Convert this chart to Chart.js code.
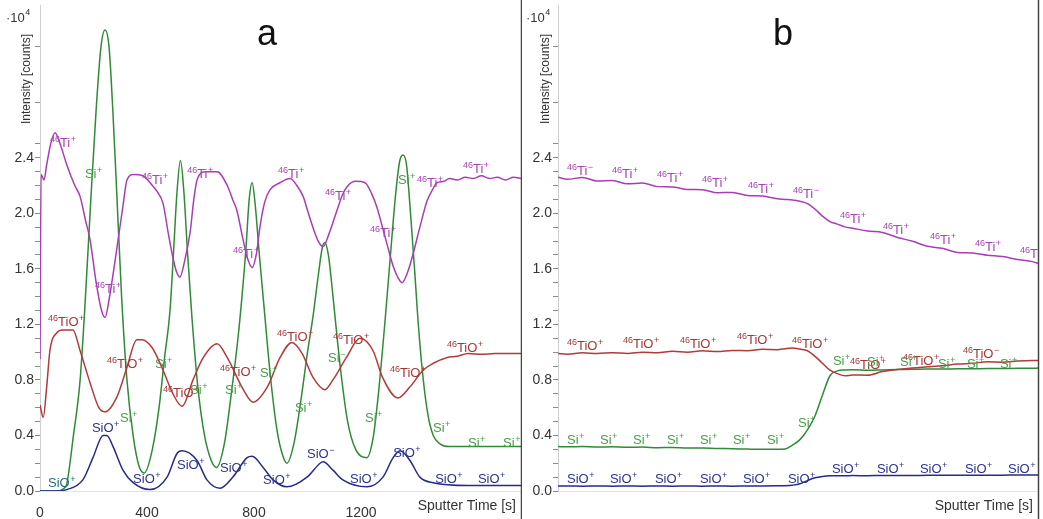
<!DOCTYPE html>
<html>
<head>
<meta charset="utf-8">
<script src="https://cdn.jsdelivr.net/npm/chart.js@4.4.1/dist/chart.umd.min.js"></script>
<style>
  html, body { margin: 0; padding: 0; background: #fff; }
  #wrap { position: relative; width: 1043px; height: 519px; overflow: hidden; }
  #ca { position: absolute; left: 0; top: 0; }
  #cb { position: absolute; left: 522px; top: 0; }
</style>
</head>
<body>
<div id="wrap">
  <canvas id="ca" width="522" height="519"></canvas>
  <canvas id="cb" width="521" height="519"></canvas>
</div>
<script>
/* ---- panel a : sputter time [s] / intensity [10^4 counts] ---- */
const tiTimeA = [0,4,15,25,40,56,75,100,130,150,170,187,210,230,243,260,280,292,310,325,350,385,420,440,460,480,497,510,523,540,561,575,587,620,662,700,720,736,759,775,793,810,822,840,860,897,935,960,984,1000,1020,1040,1058,1080,1110,1130,1147,1180,1215,1240,1260,1280,1297,1320,1340,1353,1375,1395,1420,1447,1470,1484,1510,1530,1560,1590,1620,1650,1680,1710,1740,1770,1800];
const tiValA  = [0.95,2.28,2.24,2.35,2.5,2.58,2.5,2.35,2.2,2.12,1.95,1.81,1.5,1.3,1.25,1.4,1.65,1.81,2.05,2.24,2.28,2.27,2.2,2.15,2.07,1.85,1.68,1.58,1.54,1.65,1.86,2.1,2.24,2.3,2.3,2.2,2.1,2.02,1.81,1.68,1.61,1.72,1.9,2.08,2.17,2.22,2.25,2.2,2.12,2.02,1.9,1.8,1.76,1.85,2.02,2.13,2.19,2.23,2.22,2.14,2.04,1.9,1.78,1.62,1.53,1.5,1.58,1.71,1.9,2.09,2.18,2.22,2.23,2.25,2.24,2.26,2.25,2.27,2.25,2.26,2.24,2.26,2.25];

const siTimeA = [0,60,90,100,125,150,170,190,210,228,243,258,272,288,305,325,348,370,390,420,445,465,486,500,512,525,538,552,568,590,615,640,660,690,715,740,755,770,782,793,805,820,841,860,885,905,923,950,975,1000,1020,1040,1055,1065,1078,1090,1103,1125,1150,1180,1222,1245,1265,1290,1310,1330,1345,1357,1370,1385,1400,1413,1430,1450,1470,1495,1530,1800];
const siValA  = [0,0,0.02,0.05,0.4,0.8,1.4,2.1,2.75,3.2,3.32,3.2,2.75,2.1,1.4,0.8,0.4,0.18,0.13,0.3,0.6,0.95,1.3,1.75,2.15,2.38,2.15,1.7,1.25,0.75,0.4,0.22,0.17,0.35,0.7,1.1,1.4,1.75,2.1,2.22,2.05,1.7,1.25,0.85,0.45,0.27,0.2,0.35,0.65,1.0,1.25,1.55,1.75,1.79,1.7,1.5,1.25,0.85,0.5,0.3,0.24,0.38,0.7,1.23,1.7,2.15,2.38,2.42,2.35,2.0,1.6,1.23,0.85,0.55,0.4,0.34,0.32,0.32];

const tioTimeA = [0,12,25,37,63,85,123,150,187,220,243,288,325,362,381,420,460,497,531,572,610,662,700,760,796,850,897,942,980,1020,1065,1095,1145,1196,1245,1280,1338,1383,1432,1470,1520,1560,1600,1650,1700,1750,1800];
const tioValA  = [0.62,0.53,0.75,1.01,1.14,1.16,1.16,1.01,0.78,0.6,0.57,0.68,0.89,1.09,1.09,1.03,0.87,0.7,0.61,0.8,0.96,1.06,0.96,0.73,0.64,0.75,0.96,1.07,0.99,0.82,0.73,0.8,0.96,1.1,1.01,0.82,0.67,0.75,0.87,0.92,0.96,0.97,0.99,0.985,0.99,0.99,0.99];

const sioTimeA = [0,60,100,160,198,236,250,273,310,348,411,475,512,531,587,624,673,721,774,793,834,871,923,998,1047,1058,1095,1132,1222,1282,1320,1346,1383,1420,1469,1600,1800];
const sioValA  = [0,0,0.01,0.08,0.24,0.4,0.4,0.32,0.15,0.06,0.01,0.1,0.27,0.29,0.22,0.08,0.02,0.1,0.24,0.25,0.17,0.08,0.03,0.1,0.2,0.21,0.15,0.08,0.03,0.1,0.24,0.29,0.22,0.1,0.06,0.04,0.04];

/* ---- panel b ---- */
const timeB   = [1787,1850,1950,2050,2150,2250,2350,2450,2550,2650,2750,2850,2950,3050,3150,3250,3300,3350,3400,3450,3500,3550,3600,3650,3700,3750,3850,3950,4050,4150,4250,4350,4450,4550,4650,4750,4850,4950,4987];
const tiValB  = [2.26,2.245,2.258,2.232,2.236,2.212,2.218,2.192,2.19,2.172,2.17,2.148,2.15,2.128,2.124,2.104,2.1,2.096,2.086,2.07,2.03,1.98,1.94,1.922,1.902,1.893,1.872,1.862,1.826,1.798,1.762,1.748,1.718,1.714,1.698,1.688,1.668,1.652,1.64];
const tioValB = [0.99,0.985,0.995,0.99,0.996,0.99,1.0,0.995,1.006,1.0,1.01,1.004,1.012,1.01,1.02,1.018,1.025,1.03,1.022,1.01,0.97,0.92,0.87,0.845,0.83,0.835,0.834,0.86,0.875,0.886,0.894,0.902,0.914,0.92,0.93,0.928,0.936,0.94,0.94];
const siValB  = [0.32,0.318,0.32,0.316,0.318,0.315,0.316,0.312,0.314,0.31,0.31,0.306,0.305,0.302,0.3,0.3,0.302,0.33,0.37,0.44,0.54,0.69,0.83,0.865,0.872,0.874,0.87,0.872,0.875,0.876,0.878,0.878,0.88,0.88,0.882,0.882,0.884,0.884,0.885];
const sioValB = [0.036,0.036,0.035,0.036,0.035,0.036,0.035,0.036,0.035,0.036,0.035,0.036,0.035,0.036,0.036,0.037,0.038,0.042,0.052,0.075,0.095,0.105,0.11,0.11,0.11,0.111,0.11,0.112,0.112,0.112,0.113,0.113,0.113,0.114,0.114,0.114,0.115,0.115,0.115];

/* ---- ion tags written along the curves: [time, intensity, text] ---- */
const tiTagsA  = [[37,2.51,"46Ti+"],[206,1.46,"46Ti+"],[381,2.24,"46Ti+"],[550,2.29,"46Ti+"],[721,1.71,"46Ti+"],[890,2.29,"46Ti+"],[1065,2.13,"46Ti+"],[1234,1.86,"46Ti+"],[1409,2.22,"46Ti+"],[1581,2.32,"46Ti+"]];
const siTagsA  = [[168,2.29,"Si+"],[299,0.53,"Si+"],[430,0.92,"Si+"],[561,0.73,"Si+"],[692,0.73,"Si+"],[822,0.85,"Si+"],[953,0.6,"Si+"],[1077,0.96,"Si-"],[1215,0.53,"Si+"],[1338,2.24,"Si+"],[1469,0.46,"Si+"],[1600,0.35,"Si+"],[1731,0.35,"Si+"]];
const tioTagsA = [[30,1.22,"46TiO+"],[250,0.92,"46TiO+"],[460,0.71,"46TiO+"],[673,0.86,"46TiO+"],[886,1.11,"46TiO+"],[1095,1.09,"46TiO+"],[1308,0.85,"46TiO+"],[1521,1.03,"46TiO+"]];
const sioTagsA = [[194,0.46,"SiO+"],[348,0.09,"SiO+"],[512,0.19,"SiO+"],[673,0.17,"SiO+"],[834,0.08,"SiO+"],[998,0.27,"SiO-"],[1159,0.09,"SiO+"],[1320,0.28,"SiO+"],[1477,0.09,"SiO+"],[1637,0.09,"SiO+"]];
const sioTealTagsA = [[30,0.06,"SiO+"]];

const tiTagsB  = [[1847,2.31,"46Ti-"],[2147,2.29,"46Ti+"],[2447,2.26,"46Ti+"],[2747,2.22,"46Ti+"],[3053,2.18,"46Ti+"],[3353,2.14,"46Ti-"],[3667,1.96,"46Ti+"],[3953,1.88,"46Ti+"],[4267,1.81,"46Ti+"],[4567,1.76,"46Ti+"],[4867,1.71,"46Ti+"]];
const tioTagsB = [[1847,1.05,"46TiO+"],[2220,1.06,"46TiO+"],[2600,1.06,"46TiO+"],[2980,1.09,"46TiO+"],[3347,1.06,"46TiO+"],[3733,0.91,"46TiO+"],[4087,0.94,"46TiO+"],[4487,0.99,"46TiO-"]];
const siTagsB  = [[1847,0.37,"Si+"],[2067,0.37,"Si+"],[2287,0.37,"Si+"],[2513,0.37,"Si+"],[2733,0.37,"Si+"],[2953,0.37,"Si+"],[3180,0.37,"Si+"],[3387,0.49,"Si+"],[3620,0.94,"Si+"],[3847,0.93,"Si+"],[4067,0.93,"Si+"],[4320,0.92,"Si+"],[4513,0.92,"Si+"],[4733,0.92,"Si+"]];
const sioTagsB = [[1847,0.09,"SiO+"],[2133,0.09,"SiO+"],[2433,0.09,"SiO+"],[2733,0.09,"SiO+"],[3020,0.09,"SiO+"],[3320,0.09,"SiO+"],[3613,0.165,"SiO+"],[3913,0.165,"SiO+"],[4200,0.165,"SiO+"],[4500,0.165,"SiO+"],[4787,0.165,"SiO+"]];

/* colours */
const TI_COL = "#a93db6", TIO_COL = "#b23a3a", SI_COL = "#2f8b35", SIO_COL = "#262a88";
const TI_TXT = "#a844b4", TIO_TXT = "#a93636", SI_TXT = "#46a046", SIO_TXT = "#2d3290", TEAL_TXT = "#23706f";
const FONT = '"Liberation Sans", Arial, sans-serif';

function pts(ts, vs) { return ts.map((t, i) => ({ x: t, y: vs[i] })); }

function line(label, ts, vs, color) {
  return {
    label, data: pts(ts, vs), borderColor: color, backgroundColor: color,
    borderWidth: 1.5, pointRadius: 0, fill: false, cubicInterpolationMode: "monotone"
  };
}

// "46TiO+" -> small "46", normal "TiO", small "+"
function drawIon(ctx, px, py, txt, col) {
  const m = txt.match(/^(\d*)([A-Za-z]+)([+\-]?)$/);
  const base = py + 4.5;
  let cx = px;
  ctx.fillStyle = col;
  ctx.textAlign = "left";
  ctx.textBaseline = "alphabetic";
  if (m[1]) {
    ctx.font = "9px " + FONT;
    ctx.fillText(m[1], cx, base - 5);
    cx += ctx.measureText(m[1]).width;
  }
  ctx.font = "13px " + FONT;
  ctx.fillText(m[2], cx, base);
  cx += ctx.measureText(m[2]).width;
  if (m[3]) {
    ctx.font = "9px " + FONT;
    ctx.fillText(m[3] === "-" ? "\u2212" : "+", cx + 0.5, base - 5);
  }
}

const decor = {
  id: "decor",
  afterDatasetsDraw(chart, args, o) {
    const { ctx, chartArea: a, scales: { x, y } } = chart;
    ctx.save();
    ctx.beginPath();
    ctx.rect(a.left, a.top, a.right - a.left, a.bottom - a.top);
    ctx.clip();
    o.tags.forEach(([list, col]) => list.forEach(([t, v, s]) =>
      drawIon(ctx, x.getPixelForValue(t), y.getPixelForValue(v), s, col)));
    ctx.restore();

    ctx.save();
    // panel letter
    ctx.fillStyle = "#111";
    ctx.font = "36px " + FONT;
    ctx.textAlign = "center";
    ctx.textBaseline = "alphabetic";
    ctx.fillText(o.letter, o.letterX, 45);
    // ·10^4
    ctx.fillStyle = "#333";
    ctx.textAlign = "left";
    ctx.font = "13px " + FONT;
    ctx.fillText("\u00b710", o.expX, 22);
    const w = ctx.measureText("\u00b710").width;
    ctx.font = "9px " + FONT;
    ctx.fillText("4", o.expX + w + 0.5, 15);
    // y title
    ctx.save();
    ctx.translate(o.yTitleX, 79);
    ctx.rotate(-Math.PI / 2);
    ctx.textAlign = "center";
    ctx.textBaseline = "middle";
    ctx.font = "12px " + FONT;
    ctx.fillStyle = "#333";
    ctx.fillText("Intensity [counts]", 0, 0);
    ctx.restore();
    // x title
    ctx.font = "14px " + FONT;
    ctx.textAlign = "right";
    ctx.textBaseline = "middle";
    ctx.fillStyle = "#333";
    ctx.fillText("Sputter Time [s]", a.right - 5, 506);
    // frame line on the right
    ctx.strokeStyle = "#444";
    ctx.lineWidth = 1.5;
    ctx.beginPath();
    ctx.moveTo(a.right + 0.5, 0);
    ctx.lineTo(a.right + 0.5, chart.height);
    ctx.stroke();
    ctx.restore();
  }
};

function makeChart(id, datasets, xmin, xmax, xstep, xshow, yWidth, padRight, deco) {
  return new Chart(document.getElementById(id), {
    type: "line",
    data: { datasets },
    plugins: [decor],
    options: {
      responsive: false,
      animation: false,
      events: [],
      layout: { padding: { top: 5, right: padRight, left: 0, bottom: 0 } },
      plugins: { legend: { display: false }, tooltip: { enabled: false }, decor: deco },
      scales: {
        x: {
          type: "linear", min: xmin, max: xmax,
          afterFit(s) { s.height = 28; s.paddingLeft = 0; s.paddingRight = 0; },
          grid: { display: false },
          border: { display: true, color: "#e2e2e2" },
          ticks: {
            stepSize: xstep, autoSkip: false, maxRotation: 0, padding: 6,
            color: "#333", font: { family: FONT, size: 14 },
            callback: v => (xshow.includes(v) ? String(v) : "")
          }
        },
        y: {
          min: 0, max: 3.5,
          afterFit(s) { s.width = yWidth; s.paddingTop = 0; s.paddingBottom = 0; },
          grid: {
            drawOnChartArea: false, drawTicks: true, tickLength: 5,
            tickColor: c => {
              const k = Math.round(c.tick.value * 10);
              return (k <= 25 || k === 28 || k === 32) ? "#8a8a8a" : "rgba(0,0,0,0)";
            }
          },
          border: { display: true, color: "#cfcfcf" },
          ticks: {
            stepSize: 0.1, autoSkip: false, padding: 1,
            color: "#333", font: { family: FONT, size: 14 },
            callback: v => {
              const k = Math.round(v * 10);
              return (k % 4 === 0 && k <= 24) ? (k / 10).toFixed(1) : "";
            }
          }
        }
      }
    }
  });
}

makeChart("ca", [
  line("46TiO+", tioTimeA, tioValA, TIO_COL),
  line("46Ti+", tiTimeA, tiValA, TI_COL),
  line("SiO+", sioTimeA, sioValA, SIO_COL),
  line("Si+", siTimeA, siValA, SI_COL)
], 0, 1798, 400, [0, 400, 800, 1200], 40, 1, {
  letter: "a", letterX: 267, expX: 6, yTitleX: 27,
  tags: [[tiTagsA, TI_TXT], [tioTagsA, TIO_TXT], [siTagsA, SI_TXT], [sioTagsA, SIO_TXT], [sioTealTagsA, TEAL_TXT]]
});

makeChart("cb", [
  line("46TiO+", timeB, tioValB, TIO_COL),
  line("46Ti+", timeB, tiValB, TI_COL),
  line("SiO+", timeB, sioValB, SIO_COL),
  line("Si+", timeB, siValB, SI_COL)
], 1787, 4987, 1000, [2000, 3000, 4000], 36, 5, {
  letter: "b", letterX: 261, expX: 4, yTitleX: 24,
  tags: [[tiTagsB, TI_TXT], [tioTagsB, TIO_TXT], [siTagsB, SI_TXT], [sioTagsB, SIO_TXT]]
});
</script>
</body>
</html>
